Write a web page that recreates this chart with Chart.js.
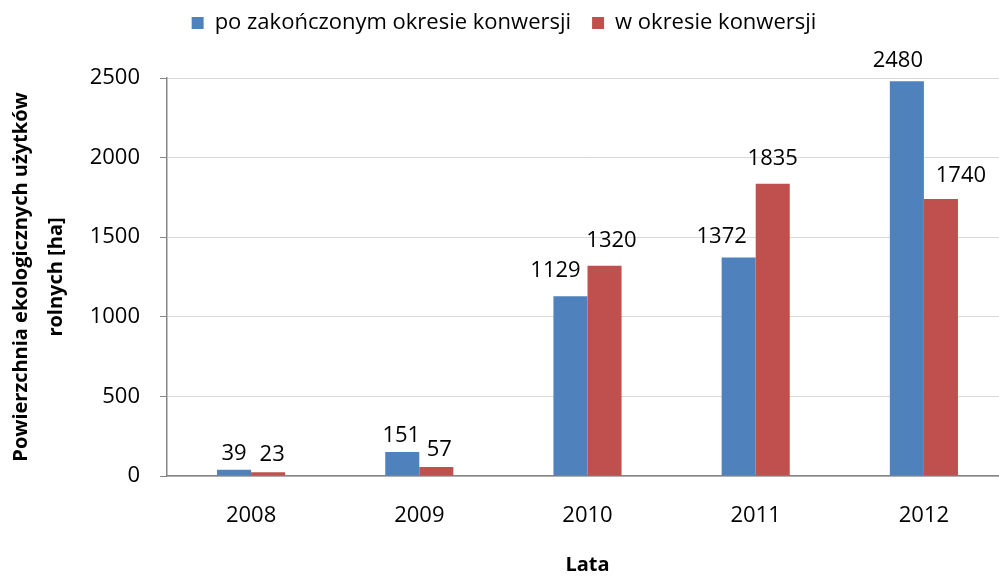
<!DOCTYPE html>
<html>
<head>
<meta charset="utf-8">
<script src="https://cdn.jsdelivr.net/npm/chart.js@4"></script>
<style>
  body { margin: 0; overflow: hidden; background: #fff; }
</style>
</head>
<body>
<canvas id="myChart" width="1008" height="581"></canvas>
<script>
// dane
const years = ['2008', '2009', '2010', '2011', '2012'];
const afterConversion = [39, 151, 1129, 1372, 2480];
const inConversion = [23, 57, 1320, 1835, 1740];
const seriesNames = ['po zakończonym okresie konwersji', 'w okresie konwersji'];
const yTitle = ['Powierzchnia ekologicznych użytków', 'rolnych [ha]'];
const xTitle = 'Lata';

// przesunięcia etykiet jak w oryginale [dx, odstęp od słupka]
const labelShift = [
  [[0, 10], [-1, 10], [-15, 19], [-17, 15], [-9, 14]],
  [[4, 11], [3, 11], [7, 19], [0, 19], [20, 17]]
];

const font = 'Open Sans';

const fixLegend = {
  id: 'fixLegend',
  beforeInit(chart) {
    const fit = chart.legend.fit;
    chart.legend.fit = function () {
      fit.call(this);
      this.height = 78;
    };
  },
  afterLayout(chart) {
    chart.legend.top = -9;
  }
};

const barLabels = {
  id: 'barLabels',
  afterDatasetsDraw(chart) {
    const ctx = chart.ctx;
    ctx.save();
    ctx.font = '22px "' + font + '"';
    ctx.fillStyle = '#000';
    ctx.textAlign = 'center';
    ctx.textBaseline = 'alphabetic';
    chart.data.datasets.forEach(function (ds, i) {
      chart.getDatasetMeta(i).data.forEach(function (bar, j) {
        const s = labelShift[i][j];
        ctx.fillText(String(ds.data[j]), bar.x + s[0], bar.y - s[1]);
      });
    });
    ctx.restore();
  }
};

new Chart(document.getElementById('myChart'), {
  type: 'bar',
  data: {
    labels: years,
    datasets: [{
      label: seriesNames[0],
      data: afterConversion,
      backgroundColor: '#4F81BD',
      categoryPercentage: 0.405,
      barPercentage: 1
    }, {
      label: seriesNames[1],
      data: inConversion,
      backgroundColor: '#C0504D',
      categoryPercentage: 0.405,
      barPercentage: 1
    }]
  },
  options: {
    responsive: false,
    animation: false,
    layout: { padding: 0 },
    plugins: {
      legend: {
        position: 'top',
        labels: {
          boxWidth: 12,
          boxHeight: 12,
          padding: 21,
          color: '#000',
          font: { family: font, size: 22 }
        }
      },
      tooltip: { enabled: false }
    },
    scales: {
      x: {
        grid: { display: false, drawTicks: false },
        border: { display: true, color: '#868686', width: 1.5 },
        ticks: { color: '#000', padding: 27, font: { family: font, size: 22 } },
        title: {
          display: true,
          text: xTitle,
          color: '#000',
          padding: { top: 0, bottom: 4 },
          font: { family: font, size: 20, weight: 'bold' }
        },
        afterFit(scale) { scale.height = 105; }
      },
      y: {
        min: 0,
        max: 2500,
        ticks: {
          stepSize: 500,
          color: '#000',
          padding: 20,
          font: { family: font, size: 22 },
          callback: function (v) { return String(v); }
        },
        grid: { color: '#d9d9d9', tickColor: '#868686', tickLength: 7 },
        border: { color: '#868686', width: 1.5 },
        title: {
          display: true,
          text: yTitle,
          color: '#000',
          padding: { top: 4, bottom: 0 },
          font: { family: font, size: 20, weight: 'bold', lineHeight: 1.75 }
        },
        afterFit(scale) { scale.width = 167; }
      }
    }
  },
  plugins: [fixLegend, barLabels]
});
</script>
</body>
</html>
